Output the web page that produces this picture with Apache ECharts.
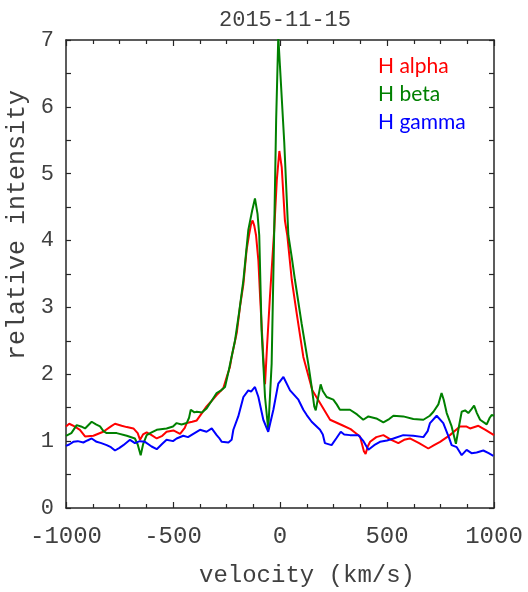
<!DOCTYPE html>
<html>
<head>
<meta charset="utf-8">
<script src="https://cdn.jsdelivr.net/npm/echarts@6/dist/echarts.min.js"></script>
<style>html,body{margin:0;padding:0;background:#fff}#c{width:528px;height:592px}</style>
</head>
<body>
<div id="c"></div>
<script>
const xTicks = [-1000, -500, 0, 500, 1000];
const yTicks = [0, 1, 2, 3, 4, 5, 6, 7];
const seriesNames = ['H alpha', 'H beta', 'H gamma'];

const alphaVel = [-1000,-985,-960,-935,-911,-872,-826,-790,-771,-740,-716,-685,-665,-654,-640,-623,-600,-576,-550,-530,-498,-467,-445,-436,-410,-389,-365,-343,-320,-296,-265,-249,-234,-226,-202,-187,-171,-156,-145,-135,-128,-120,-112,-101,-93,-78,-70,-60,-47,-27,-15,-3,8,23,34,55,78,109,151,187,234,296,330,350,374,392,400,410,421,450,483,520,553,580,607,650,693,720,748,794,841,870,888,927,960,1000];
const alphaInt = [1.22,1.26,1.22,1.17,1.07,1.08,1.14,1.22,1.26,1.23,1.21,1.19,1.12,1.02,1.10,1.13,1.09,1.04,1.08,1.14,1.16,1.11,1.20,1.27,1.29,1.31,1.42,1.52,1.60,1.69,1.79,1.96,2.11,2.26,2.62,3.01,3.35,3.86,4.08,4.25,4.30,4.22,4.08,3.70,3.16,2.26,1.85,2.45,3.16,4.16,4.90,5.34,5.10,4.30,4.08,3.41,2.91,2.26,1.76,1.57,1.32,1.23,1.18,1.13,1.07,0.85,0.81,0.92,0.99,1.06,1.09,1.02,0.97,1.02,1.04,0.97,0.89,0.94,0.99,1.09,1.22,1.22,1.19,1.23,1.17,1.09];

const betaVel = [-1000,-975,-950,-930,-911,-880,-860,-841,-825,-810,-763,-716,-678,-665,-651,-640,-623,-600,-576,-530,-500,-483,-460,-436,-425,-417,-400,-389,-365,-343,-320,-296,-275,-257,-240,-210,-190,-171,-148,-130,-117,-105,-97,-86,-70,-55,-39,-27,-18,-8,0,20,39,55,70,101,132,148,160,167,178,190,200,218,249,265,280,327,360,389,413,450,483,510,530,576,623,670,700,717,740,755,765,779,802,822,835,849,865,880,895,907,920,935,966,980,989,1000];
const betaInt = [1.08,1.12,1.24,1.22,1.19,1.29,1.25,1.22,1.15,1.12,1.12,1.08,1.04,0.95,0.79,0.95,1.09,1.13,1.17,1.19,1.22,1.27,1.25,1.27,1.35,1.47,1.43,1.44,1.43,1.49,1.60,1.72,1.76,1.81,2.05,2.51,2.95,3.41,4.16,4.45,4.63,4.40,4.08,2.66,1.66,1.17,2.16,4.16,5.80,7.05,6.60,5.46,4.08,3.75,3.41,2.76,2.16,1.81,1.52,1.46,1.65,1.85,1.75,1.66,1.62,1.55,1.47,1.47,1.40,1.32,1.37,1.34,1.28,1.33,1.38,1.37,1.33,1.32,1.38,1.44,1.55,1.72,1.62,1.42,1.22,0.96,1.20,1.44,1.46,1.42,1.48,1.53,1.42,1.32,1.25,1.35,1.39,1.38];

const gammaVel = [-1000,-985,-966,-945,-919,-900,-880,-857,-835,-810,-790,-771,-750,-732,-701,-678,-655,-631,-600,-576,-550,-530,-500,-483,-452,-430,-405,-374,-343,-319,-296,-285,-272,-241,-226,-218,-195,-171,-148,-135,-117,-101,-78,-55,-31,-8,16,47,86,109,125,148,156,187,200,210,241,265,284,300,327,366,390,413,440,467,500,530,576,623,670,690,701,732,763,790,802,826,849,872,895,919,950,975,997];
const gammaInt = [0.93,0.95,0.99,1.00,0.98,1.01,1.04,0.99,0.97,0.94,0.91,0.86,0.90,0.94,1.02,0.97,1.00,0.99,0.92,0.88,0.96,1.02,1.00,1.04,1.08,1.06,1.11,1.17,1.14,1.19,1.09,1.05,0.99,0.98,1.02,1.17,1.37,1.66,1.76,1.74,1.81,1.66,1.32,1.14,1.47,1.86,1.96,1.76,1.62,1.47,1.39,1.29,1.27,1.17,1.10,0.97,0.94,1.05,1.14,1.10,1.09,1.09,1.00,0.87,0.94,0.99,1.01,1.04,1.09,1.08,1.06,1.15,1.27,1.38,1.27,1.05,0.94,0.91,0.79,0.87,0.82,0.83,0.86,0.82,0.78];

const colors = ['#ff0000', '#008000', '#0000ff'];
const zip = (a, b) => a.map((v, i) => [v, b[i]]);
const seriesData = [zip(alphaVel, alphaInt), zip(betaVel, betaInt), zip(gammaVel, gammaInt)];

const mono = 'Liberation Mono';
const axisCol = '#262626';
const txtCol = '#404040';

const xBase = {
  type: 'value', min: xTicks[0], max: xTicks[xTicks.length - 1], interval: 500,
  axisLine: { show: true, onZero: false, lineStyle: { color: axisCol, width: 1.5 } },
  axisTick: { show: true, inside: true, length: 6, lineStyle: { color: axisCol, width: 1.2 } },
  minorTick: { show: true, splitNumber: 4, length: 4, lineStyle: { color: axisCol, width: 1.2 } },
  splitLine: { show: false }, minorSplitLine: { show: false }
};
const yBase = {
  type: 'value', min: yTicks[0], max: yTicks[yTicks.length - 1], interval: 1,
  axisLine: { show: true, onZero: false, lineStyle: { color: axisCol, width: 1.5 } },
  axisTick: { show: true, inside: true, length: 5, lineStyle: { color: axisCol, width: 1.2 } },
  minorTick: { show: true, splitNumber: 2, length: 5, lineStyle: { color: axisCol, width: 1.2 } },
  splitLine: { show: false }, minorSplitLine: { show: false }
};

const chart = echarts.init(document.getElementById('c'), null, { renderer: 'canvas' });
chart.setOption({
  animation: false,
  backgroundColor: '#ffffff',
  title: {
    text: '2015-11-15', left: 280, top: 4, textAlign: 'center',
    textStyle: { fontFamily: mono, fontSize: 22, fontWeight: 'normal', color: txtCol }
  },
  grid: { left: 66, right: 34, top: 40, bottom: 84, containLabel: false, outerBoundsMode: 'none' },
  xAxis: [
    Object.assign({}, xBase, {
      position: 'bottom',
      name: 'velocity (km/s)', nameLocation: 'middle', nameGap: 56,
      nameTextStyle: { fontFamily: mono, fontSize: 24, color: txtCol, padding: [0, 0, 0, 54] },
      axisLabel: { show: true, margin: 17, fontFamily: mono, fontSize: 24, color: txtCol,
        formatter: v => String(v) }
    }),
    Object.assign({}, xBase, { position: 'top', axisLabel: { show: false } })
  ],
  yAxis: [
    Object.assign({}, yBase, {
      position: 'left',
      name: 'relative intensity', nameLocation: 'middle', nameGap: 29,
      nameTextStyle: { fontFamily: mono, fontSize: 25, color: txtCol, padding: [0, 0, 0, 98] },
      axisLabel: { show: true, margin: 12, fontFamily: mono, fontSize: 22, color: txtCol,
        formatter: v => String(v) }
    }),
    Object.assign({}, yBase, { position: 'right', axisLabel: { show: false } })
  ],
  series: seriesNames.map((n, i) => ({
    name: n, type: 'line', xAxisIndex: 0, yAxisIndex: 0,
    data: seriesData[i], showSymbol: false, symbol: 'none', smooth: false, clip: true,
    lineStyle: { color: colors[i], width: 2 }, z: 2 + i
  })),
  graphic: seriesNames.map((n, i) => ({
    type: 'text', left: 378, top: 56 + i * 28, z: 10,
    style: { text: n, fill: colors[i], font: '21px Lato' }
  }))
});
</script>
</body>
</html>
